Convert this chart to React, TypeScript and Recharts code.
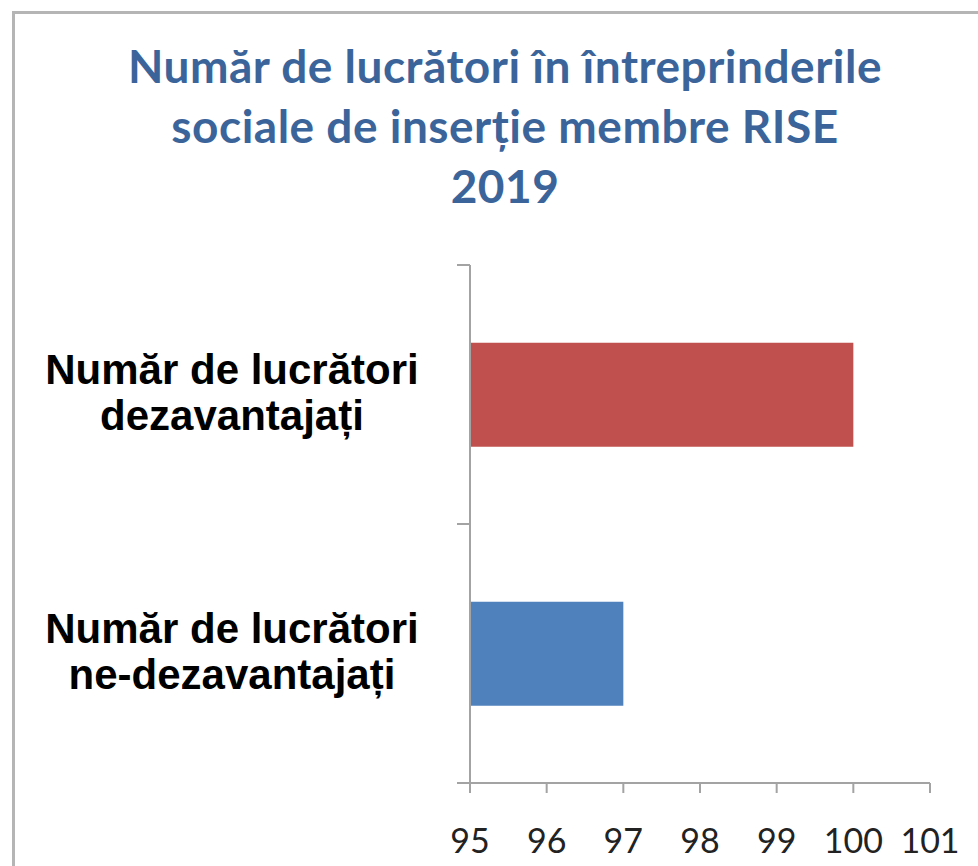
import React from "react";
import { BarChart, Bar, XAxis, YAxis, Cell } from "recharts";

const categories = ["Număr de lucrători\ndezavantajați", "Număr de lucrători\nne-dezavantajați"];
const workers = [100, 97];
const barColors = ["#C0504D", "#4F81BD"];
const xTicks = [95, 96, 97, 98, 99, 100, 101];
// separators between the two categories, as fractions of the category span
const boundaryTicks = [0, 0.5, 1];
const titleLines = ["Număr de lucrători în întreprinderile", "sociale de inserție membre RISE", "2019"];

const data = categories.map((name, i) => ({ name, value: workers[i] }));

const axisGrey = "#a3a3a3";

const CategoryTick = ({ x, y, payload }: any) => {
  const lines = String(payload.value).split("\n");
  const cx = x - 223;
  return (
    <text
      x={cx}
      y={y}
      textAnchor="middle"
      fontFamily="'Liberation Sans', Arial, sans-serif"
      fontWeight="bold"
      fontSize={42}
      fill="#000"
    >
      <tspan x={cx} dy={-11}>{lines[0]}</tspan>
      <tspan x={cx} dy={46}>{lines[1]}</tspan>
    </text>
  );
};

const NumberTick = ({ x, y, payload }: any) => (
  <text x={x} y={y + 58} textAnchor="middle" fontFamily="Lato, sans-serif" fontSize={34} fill="#222">
    {payload.value}
  </text>
);

const BoundaryTick = ({ x, y }: any) => (
  <line x1={x - 13} x2={x} y1={y} y2={y} stroke={axisGrey} strokeWidth={2} />
);

const App = () => {
  return (
    <div style={{ position: "absolute", left: 0, top: 0, width: 978, height: 866, overflow: "hidden", background: "#fff" }}>
      <div
        style={{
          position: "absolute",
          left: 12,
          top: 11,
          width: 1000,
          height: 900,
          borderLeft: "3px solid #b5b5b5",
          borderTop: "3px solid #b5b5b5",
        }}
      />
      <div
        style={{
          position: "absolute",
          left: 0,
          top: 36,
          width: 1010,
          textAlign: "center",
          fontFamily: "Lato, sans-serif",
          fontWeight: 700,
          fontSize: 46,
          letterSpacing: 0.5,
          lineHeight: "60px",
          color: "#3B659A",
        }}
      >
        {titleLines.map((t) => (
          <div key={t}>{t}</div>
        ))}
      </div>
      <div style={{ position: "absolute", left: 0, top: 0 }}>
        <BarChart
          width={978}
          height={866}
          data={data}
          layout="vertical"
          margin={{ top: 265, right: 48, bottom: 0, left: 0 }}
          barCategoryGap="30%"
        >
          <XAxis
            type="number"
            dataKey="value"
            domain={[95, 101]}
            ticks={xTicks}
            allowDataOverflow
            height={83}
            tickSize={10}
            tickLine={{ stroke: axisGrey, strokeWidth: 2 }}
            axisLine={{ stroke: axisGrey, strokeWidth: 2 }}
            tick={NumberTick}
            interval={0}
          />
          <YAxis
            yAxisId="bounds"
            type="number"
            domain={[0, 1]}
            allowDataOverflow
            ticks={boundaryTicks}
            width={13}
            tickSize={0}
            tickMargin={0}
            tickLine={false}
            axisLine={{ stroke: axisGrey, strokeWidth: 2 }}
            tick={BoundaryTick}
            interval={0}
          />
          <YAxis
            yAxisId="cat"
            type="category"
            dataKey="name"
            width={457}
            axisLine={false}
            tickLine={false}
            tickSize={0}
            tick={CategoryTick}
            interval={0}
          />
          <Bar dataKey="value" yAxisId="cat" isAnimationActive={false}>
            {data.map((d, i) => (
              <Cell key={d.name} fill={barColors[i]} />
            ))}
          </Bar>
        </BarChart>
      </div>
    </div>
  );
};

export default App;
